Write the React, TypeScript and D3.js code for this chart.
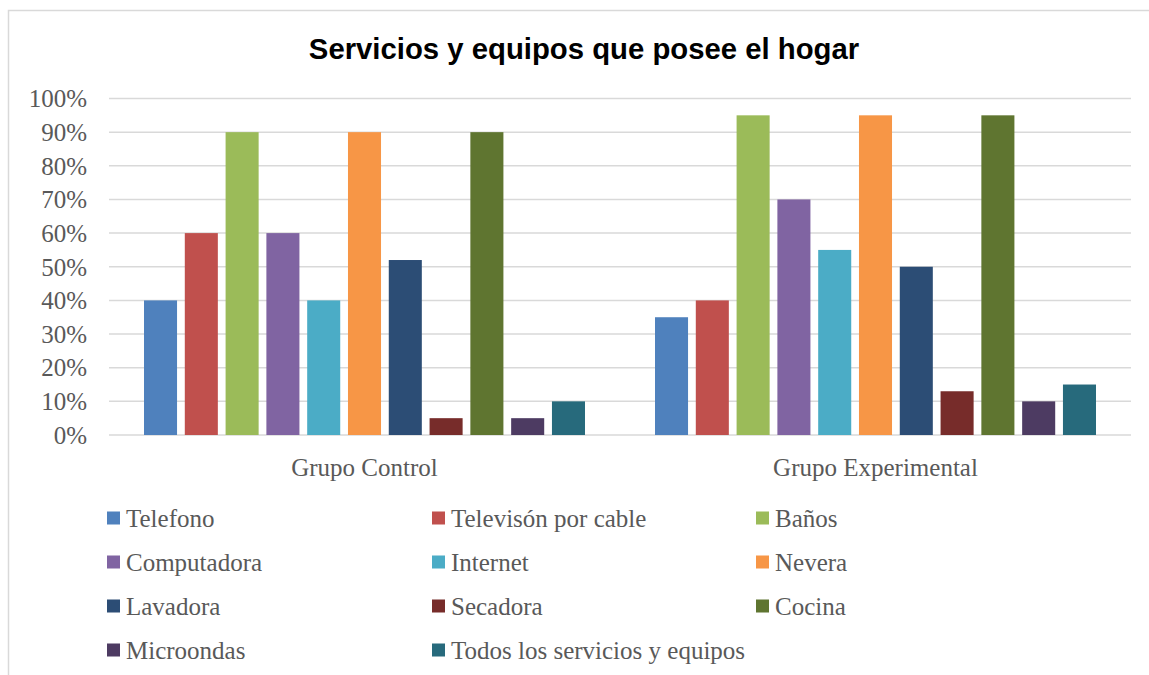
import React from "react";
import * as d3 from "d3";

const title = "Servicios y equipos que posee el hogar";
const groups = ["Grupo Control", "Grupo Experimental"];
const series = [
  "Telefono",
  "Televisón por cable",
  "Baños",
  "Computadora",
  "Internet",
  "Nevera",
  "Lavadora",
  "Secadora",
  "Cocina",
  "Microondas",
  "Todos los servicios y equipos",
];
const colors = [
  "#4F81BD",
  "#C0504D",
  "#9BBB59",
  "#8064A2",
  "#4BACC6",
  "#F79646",
  "#2C4D75",
  "#772C2A",
  "#5F7530",
  "#4D3B62",
  "#276A7C",
];
const controlValues = [0.4, 0.6, 0.9, 0.6, 0.4, 0.9, 0.52, 0.05, 0.9, 0.05, 0.1];
const experimentalValues = [0.35, 0.4, 0.95, 0.7, 0.55, 0.95, 0.5, 0.13, 0.95, 0.1, 0.15];
const yTicks = [0, 0.1, 0.2, 0.3, 0.4, 0.5, 0.6, 0.7, 0.8, 0.9, 1.0];

const W = 1149;
const H = 675;
const plot = { left: 109, right: 1131, top: 98.5, bottom: 435 };
const textGray = "#595959";
const serif = "'Liberation Serif', 'Times New Roman', serif";

export default function App() {
  const values = [controlValues, experimentalValues];
  const x0 = d3.scaleBand<string>().domain(groups).range([plot.left, plot.right]).paddingInner(0).paddingOuter(0);
  const x1 = d3
    .scaleBand<string>()
    .domain(series)
    .range([35, x0.bandwidth() - 35])
    .paddingInner(0.19)
    .paddingOuter(0);
  const y = d3.scaleLinear().domain([0, 1]).range([plot.bottom, plot.top]);
  const fmt = d3.format(".0%");

  const legendCols = [107, 432, 756];
  const legendRows = [518, 562, 606, 650];

  return (
    <svg
      width={W}
      height={H}
      style={{ position: "absolute", left: 0, top: 0, background: "#fff" }}
    >
      <rect x={0} y={0} width={W} height={H} fill="#fff" />
      <rect x={8.5} y={10.5} width={W + 20} height={H + 20} fill="none" stroke="#d9d9d9" strokeWidth={1.5} />
      <text
        x={584}
        y={59}
        textAnchor="middle"
        fontFamily="'Liberation Sans', Arial, sans-serif"
        fontWeight="bold"
        fontSize={29.3}
        fill="#000"
      >
        {title}
      </text>
      {yTicks.map((t) => (
        <g key={t}>
          <line x1={plot.left} x2={plot.right} y1={y(t)} y2={y(t)} stroke="#d9d9d9" strokeWidth={1.5} />
          <text
            x={87}
            y={y(t)}
            dy="0.35em"
            textAnchor="end"
            fontFamily={serif}
            fontSize={25}
            fill={textGray}
          >
            {fmt(t)}
          </text>
        </g>
      ))}
      {groups.map((g, gi) => (
        <g key={g} transform={`translate(${x0(g)},0)`}>
          {series.map((s, si) => (
            <rect
              key={s}
              x={x1(s)}
              y={y(values[gi][si])}
              width={x1.bandwidth()}
              height={y(0) - y(values[gi][si])}
              fill={colors[si]}
            />
          ))}
          <text
            x={x0.bandwidth() / 2}
            y={467}
            dy="0.35em"
            textAnchor="middle"
            fontFamily={serif}
            fontSize={25}
            fill={textGray}
          >
            {g}
          </text>
        </g>
      ))}
      {series.map((s, i) => {
        const col = i % 3;
        const row = Math.floor(i / 3);
        const lx = legendCols[col];
        const ly = legendRows[row];
        return (
          <g key={s}>
            <rect x={lx} y={ly - 6.5} width={13} height={13} fill={colors[i]} />
            <text
              x={lx + 19}
              y={ly}
              dy="0.35em"
              fontFamily={serif}
              fontSize={25}
              fill={textGray}
            >
              {s}
            </text>
          </g>
        );
      })}
    </svg>
  );
}
